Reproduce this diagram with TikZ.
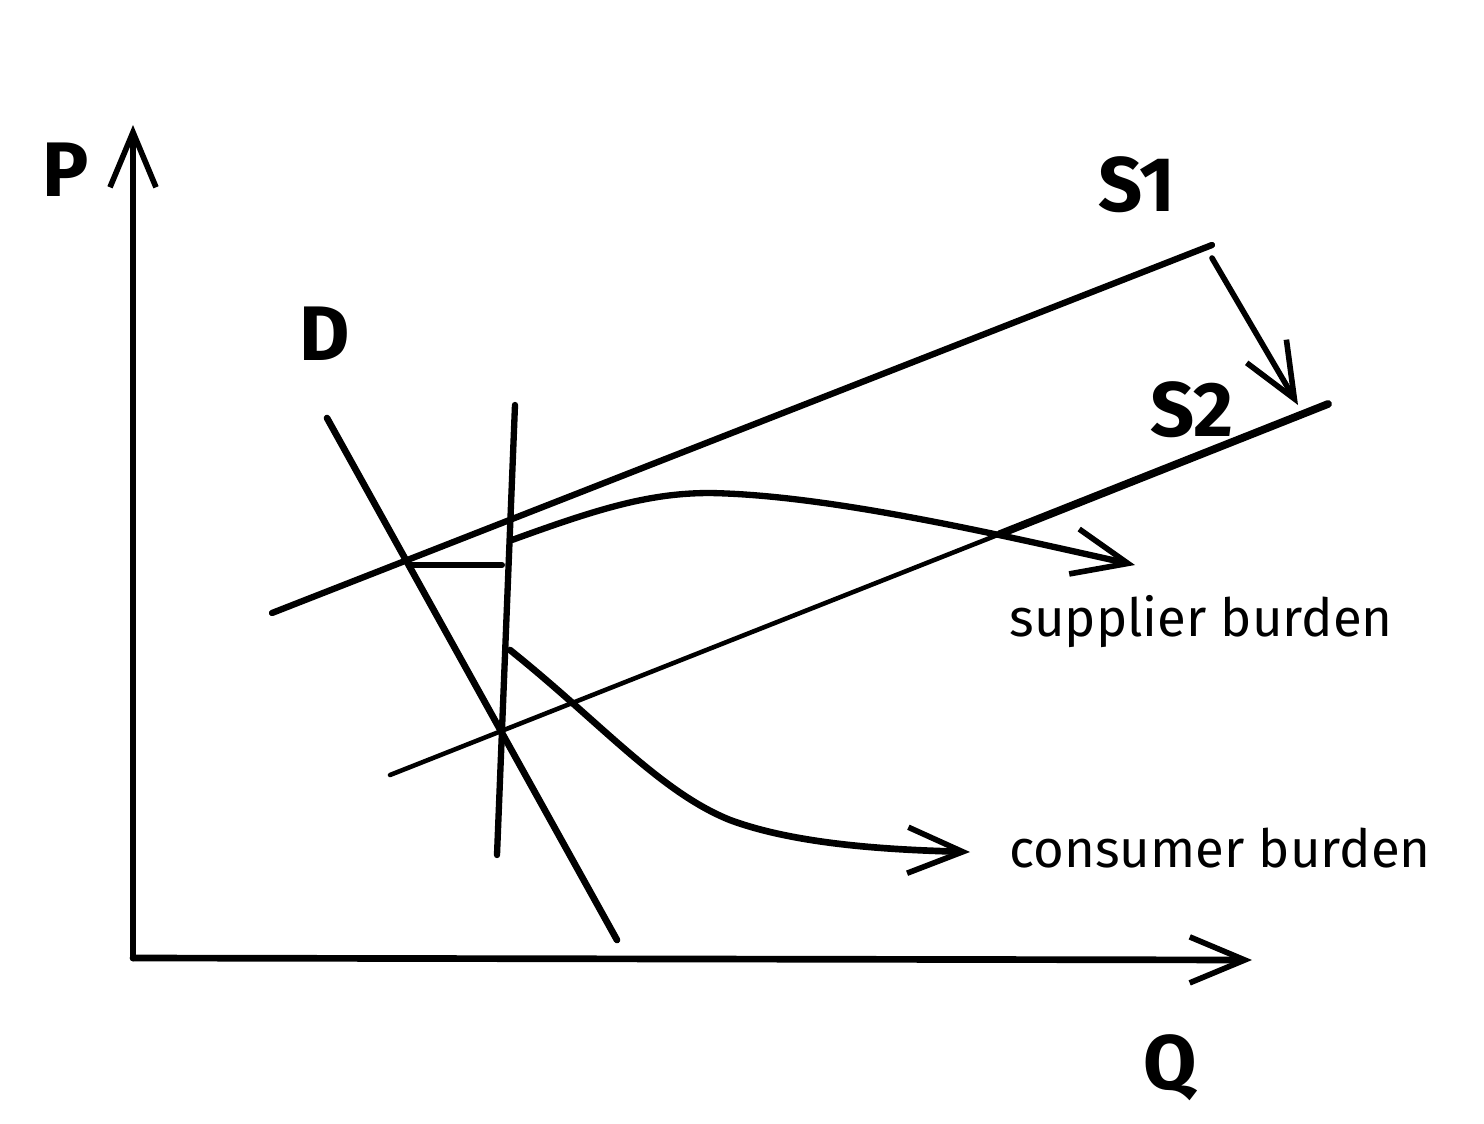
\documentclass[tikz,border=0pt]{standalone}
\usepackage{fontspec}
\setmainfont{Fira Sans}
\usetikzlibrary{arrows.meta}

\begin{document}
\begin{tikzpicture}[x=0.1mm, y=-0.1mm, line cap=round, line join=round,
    line/.style = {line width=1.7pt},
    open/.style = {line width=1.6pt, -{Straight Barb[length=5.5mm, width=4.6mm, line width=1.6pt]}},
    big/.style = {font=\fontsize{22}{24}\selectfont\bfseries},
    note/.style = {font=\fontsize{15}{18}\selectfont, anchor=west}]
	\useasboundingbox (0,0) rectangle (1484,1124);
	% axes
	\coordinate (O) at (133,958);
	\coordinate (ytop) at (133,125);
	\coordinate (xend) at (1252,960);
	\draw[open, line width=1.9pt] (O) -- (ytop);
	\draw[open, line width=1.9pt] (O) -- (xend);
	\node[big] (P) at (66,170) {P};
	\node[big] (Q) at (1170,1068) {Q};
	% demand and supply
	\coordinate (d1) at (327,418);
	\coordinate (d2) at (617,940);
	\coordinate (s1a) at (272,613);
	\coordinate (s1b) at (1212,245);
	\coordinate (s2a) at (390,775);
	\coordinate (s2b) at (1328,404);
	\draw[line, line width=1.9pt] (d1) -- (d2);
	\draw[line, line width=1.8pt] (s1a) -- (s1b);
	\draw[line, line width=1.3pt] (s2a) -- (1000,534);
	\draw[line, line width=2.2pt] (1000,534) -- (s2b);
	\node[big] (D) at (325,334) {D};
	\node[big] (S1) at (1137,185) {S1};
	\node[big] (S2) at (1192,410) {S2};
	\draw[open] (1212,258) -- (1298,405);
	% tax wedge
	\coordinate (v1) at (515,405);
	\coordinate (v2) at (497,855);
	\draw[line, line width=1.8pt] (v1) -- (v2);
	\draw[line] (410,565) -- (502,565);
	% burdens
	\node[note] (sup) at (997,622) {supplier burden};
	\node[note] (con) at (997,848) {consumer burden};
	\draw[open, line width=1.8pt] (512,540) .. controls (600,508) and (650,493) .. (710,493)
		.. controls (830,495) and (1000,535) .. (1135,565);
	\draw[open, line width=1.9pt] (510,650) .. controls (600,722) and (660,792) .. (730,820)
		.. controls (800,846) and (900,850) .. (970,852);
\end{tikzpicture}
\end{document}
